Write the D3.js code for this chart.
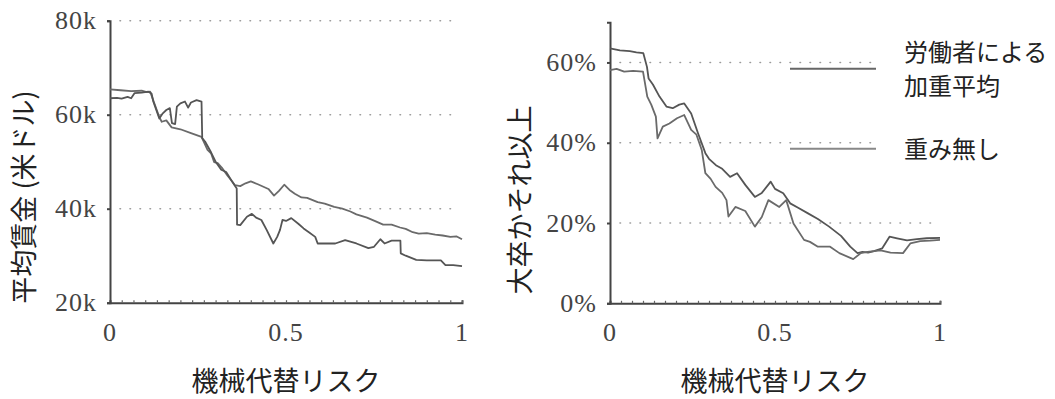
<!DOCTYPE html>
<html>
<head>
<meta charset="utf-8">
<script src="https://cdn.jsdelivr.net/npm/d3@7"></script>
<style>
  body { margin: 0; background: #fff; }
  svg { display: block; }
</style>
</head>
<body>
<div id="chart"></div>
<script>
// risk of computerisation vs. average wage (left) and share of college grads (right)
var wageRiskA = [0, 0.03, 0.06, 0.09, 0.104, 0.114, 0.128, 0.14, 0.147, 0.16, 0.175, 0.2, 0.23, 0.26, 0.277, 0.287, 0.296, 0.306, 0.318, 0.334, 0.345, 0.355, 0.37, 0.385, 0.4, 0.42, 0.45, 0.466, 0.48, 0.495, 0.51, 0.525, 0.544, 0.56, 0.59, 0.61, 0.637, 0.66, 0.683, 0.7, 0.73, 0.755, 0.776, 0.8, 0.824, 0.84, 0.86, 0.877, 0.9, 0.924, 0.945, 0.967, 0.985, 1.0];
var wageA = [65.4, 65.2, 65.0, 65.1, 64.8, 64.9, 62.0, 59.5, 58.5, 58.8, 57.3, 56.9, 56.1, 55.3, 52.5, 51.8, 49.9, 49.7, 48.7, 47.0, 46.0, 45.0, 44.8, 45.4, 45.8, 45.2, 44.2, 42.8, 43.8, 45.1, 44.0, 43.2, 42.4, 42.3, 41.4, 41.1, 40.4, 40.0, 39.4, 38.8, 38.1, 37.3, 36.6, 36.6, 36.0, 35.7, 35.0, 34.7, 34.8, 34.5, 34.3, 34.0, 34.1, 33.5];

var wageRiskB = [0, 0.02, 0.033, 0.05, 0.06, 0.07, 0.09, 0.109, 0.118, 0.123, 0.14, 0.15, 0.16, 0.17, 0.176, 0.185, 0.19, 0.2, 0.213, 0.222, 0.23, 0.246, 0.26, 0.262, 0.27, 0.287, 0.3, 0.316, 0.33, 0.345, 0.36, 0.361, 0.37, 0.389, 0.403, 0.415, 0.43, 0.445, 0.464, 0.475, 0.483, 0.49, 0.5, 0.515, 0.535, 0.55, 0.565, 0.583, 0.59, 0.62, 0.64, 0.668, 0.7, 0.734, 0.75, 0.768, 0.78, 0.8, 0.825, 0.826, 0.84, 0.87, 0.9, 0.94, 0.953, 0.975, 1.0];
var wageB = [63.5, 63.6, 63.4, 63.8, 63.5, 64.6, 64.7, 64.9, 64.5, 62.8, 59.2, 60.3, 61.0, 61.4, 58.2, 58.0, 61.7, 62.4, 62.8, 61.5, 62.6, 63.1, 62.8, 55.0, 54.3, 52.0, 50.0, 48.3, 47.8, 46.0, 44.3, 36.6, 36.5, 38.3, 38.9, 38.1, 37.6, 35.5, 32.6, 34.0, 35.5, 37.6, 37.4, 38.0, 36.8, 35.8, 35.0, 34.0, 32.6, 32.6, 32.6, 33.3, 32.6, 31.6, 31.9, 33.5, 32.6, 33.2, 33.2, 30.5, 30.0, 29.1, 29.0, 29.0, 28.0, 28.0, 27.8];

var collegeRiskA = [0, 0.03, 0.06, 0.08, 0.101, 0.112, 0.117, 0.13, 0.15, 0.171, 0.19, 0.21, 0.225, 0.246, 0.267, 0.289, 0.3, 0.321, 0.34, 0.364, 0.385, 0.41, 0.439, 0.46, 0.487, 0.5, 0.525, 0.546, 0.57, 0.6, 0.63, 0.664, 0.7, 0.728, 0.75, 0.765, 0.782, 0.8, 0.825, 0.847, 0.87, 0.9, 0.93, 0.96, 1.0];
var collegeA = [63.5, 63.0, 62.8, 62.5, 62.3, 58.9, 56.0, 54.5, 51.5, 49.0, 48.6, 49.5, 49.8, 47.3, 42.3, 37.4, 36.0, 34.4, 33.5, 31.5, 32.4, 29.5, 26.5, 27.5, 30.3, 28.5, 27.4, 24.9, 23.8, 22.4, 21.0, 19.1, 16.8, 14.1, 12.5, 12.8, 12.6, 13.0, 13.7, 16.6, 16.2, 15.7, 16.0, 16.2, 16.3];

var collegeRiskB = [0, 0.02, 0.043, 0.07, 0.1, 0.113, 0.125, 0.139, 0.144, 0.16, 0.18, 0.203, 0.225, 0.246, 0.262, 0.278, 0.289, 0.305, 0.32, 0.34, 0.353, 0.359, 0.38, 0.41, 0.439, 0.46, 0.48, 0.513, 0.534, 0.556, 0.588, 0.606, 0.63, 0.667, 0.695, 0.737, 0.76, 0.78, 0.82, 0.85, 0.888, 0.91, 0.94, 0.97, 1.0];
var collegeB = [58.1, 58.4, 57.7, 57.9, 57.7, 51.5, 49.5, 46.5, 41.1, 44.0, 44.8, 46.1, 46.9, 43.2, 42.0, 38.2, 32.4, 31.0, 29.0, 27.5, 25.7, 21.6, 24.0, 23.0, 19.1, 21.5, 25.7, 24.0, 25.7, 19.9, 15.8, 15.3, 14.1, 14.1, 12.5, 11.0, 12.5, 12.8, 13.2, 12.6, 12.5, 14.9, 15.5, 15.6, 15.8];

var xTicks = [0, 0.5, 1];
var xTickLabels = ["0", "0.5", "1"];
var wageTicks = [20, 40, 60, 80];
var wageTickLabels = ["20k", "40k", "60k", "80k"];
var collegeTicks = [0, 20, 40, 60];
var collegeTickLabels = ["0%", "20%", "40%", "60%"];

var xTitle = "機械代替リスク";
var wageTitle = "平均賃金 (米ドル)";
var collegeTitle = "大卒かそれ以上";
var legendNames = [["労働者による", "加重平均"], ["重み無し"]];

var width = 1055, height = 399;
var jpFont = "'Noto Sans CJK JP', 'Noto Sans', sans-serif";
var numFont = "'Liberation Serif', 'DejaVu Serif', serif";
var colorA = "#555", colorB = "#6a6a6a";

var svg = d3.select("#chart").append("svg")
    .attr("width", width)
    .attr("height", height);

function panel(opt) {
  var x = d3.scaleLinear().domain([0, 1]).range([opt.x0, opt.x1]);
  var y = d3.scaleLinear().domain(opt.yDomain).range([opt.y0, opt.y1]);
  var g = svg.append("g");

  // dotted gridlines
  g.append("g").selectAll("line")
    .data(opt.yTicks.filter(function(d) { return d > opt.yDomain[0]; }))
    .enter().append("line")
      .attr("x1", opt.x0 + 10)
      .attr("x2", function(d) { return opt.gridEnd(d); })
      .attr("y1", d => y(d)).attr("y2", d => y(d))
      .attr("stroke", "#9a9a9a")
      .attr("stroke-width", 1.6)
      .attr("stroke-linecap", "round")
      .attr("stroke-dasharray", "0.5,9.5");

  // axes
  var xAxis = d3.axisBottom(x).tickValues(d3.range(0, 1.0001, 1 / 30)).tickSize(-2.5).tickFormat("");
  g.append("g").attr("transform", "translate(0," + opt.y0 + ")").call(xAxis)
    .call(s => s.select(".domain").attr("stroke", "#444").attr("stroke-width", 2))
    .call(s => s.selectAll(".tick line").attr("stroke", "#666").attr("stroke-width", 1.2));

  g.append("g").selectAll("text")
    .data(xTicks)
    .enter().append("text")
      .attr("x", d => x(d))
      .attr("y", opt.y0 + 38)
      .attr("text-anchor", "middle")
      .attr("font-family", numFont)
      .attr("font-size", 26)
      .attr("letter-spacing", 1)
      .attr("fill", "#444")
      .text((d, i) => xTickLabels[i]);

  var yAxis = d3.axisLeft(y).tickValues(opt.yTicks).tickSize(3).tickFormat("");
  g.append("g").attr("transform", "translate(" + opt.x0 + ",0)").call(yAxis)
    .call(s => s.select(".domain").attr("stroke", "#444").attr("stroke-width", 2))
    .call(s => s.selectAll(".tick line").attr("stroke", "#444").attr("stroke-width", 2));

  g.append("g").selectAll("text")
    .data(opt.yTicks)
    .enter().append("text")
      .attr("x", opt.x0 - 13)
      .attr("y", d => y(d))
      .attr("dy", "0.33em")
      .attr("text-anchor", "end")
      .attr("font-family", numFont)
      .attr("font-size", 26)
      .attr("letter-spacing", 1)
      .attr("fill", "#444")
      .text((d, i) => opt.yLabels[i]);

  // lines
  var line = d3.line().x(d => x(d[0])).y(d => y(d[1]));
  opt.series.forEach(function(s) {
    g.append("path")
      .datum(d3.zip(s.risk, s.values))
      .attr("fill", "none")
      .attr("stroke", s.color)
      .attr("stroke-width", 1.8)
      .attr("stroke-linejoin", "round")
      .attr("d", line);
  });

  // titles
  g.append("text")
    .attr("x", (opt.x0 + opt.x1) / 2)
    .attr("y", 391)
    .attr("text-anchor", "middle")
    .attr("font-family", jpFont)
    .attr("font-size", 27)
    .attr("fill", "#222")
    .text(xTitle);

  g.append("text")
    .attr("transform", "translate(" + opt.yTitleX + "," + opt.yTitleY + ") rotate(-90)")
    .attr("text-anchor", "middle")
    .attr("dy", "0.35em")
    .attr("font-family", jpFont)
    .attr("font-size", 27)
    .attr("fill", "#222")
    .text(opt.yTitle);

  return { x: x, y: y, g: g };
}

panel({
  x0: 110, x1: 462, y0: 302.7, y1: 20.7,
  yDomain: [20, 80], yTicks: wageTicks, yLabels: wageTickLabels,
  gridEnd: function() { return 460; },
  series: [
    { risk: wageRiskA, values: wageA, color: colorB },
    { risk: wageRiskB, values: wageB, color: colorA }
  ],
  yTitle: wageTitle, yTitleX: 25, yTitleY: 197
});

var right = panel({
  x0: 610, x1: 940, y0: 303.3, y1: 22.3,
  yDomain: [0, 70], yTicks: collegeTicks, yLabels: collegeTickLabels,
  gridEnd: function(d) { return d >= 40 ? 880 : 937; },
  series: [
    { risk: collegeRiskA, values: collegeA, color: colorA },
    { risk: collegeRiskB, values: collegeB, color: colorB }
  ],
  yTitle: collegeTitle, yTitleX: 521, yTitleY: 200
});

// legend
var legend = svg.append("g");
var legendY = [right.y(58.4), right.y(38.5)];
legendNames.forEach(function(names, i) {
  legend.append("line")
    .attr("x1", 790).attr("x2", 876)
    .attr("y1", legendY[i]).attr("y2", legendY[i])
    .attr("stroke", i === 0 ? "#666" : "#888")
    .attr("stroke-width", 2);
  names.forEach(function(n, j) {
    legend.append("text")
      .attr("x", 904)
      .attr("y", (i === 0 ? 53 : 150) + j * 34)
      .attr("dy", "0.35em")
      .attr("font-family", jpFont)
      .attr("font-size", 24)
      .attr("fill", "#222")
      .text(n);
  });
});
</script>
</body>
</html>
